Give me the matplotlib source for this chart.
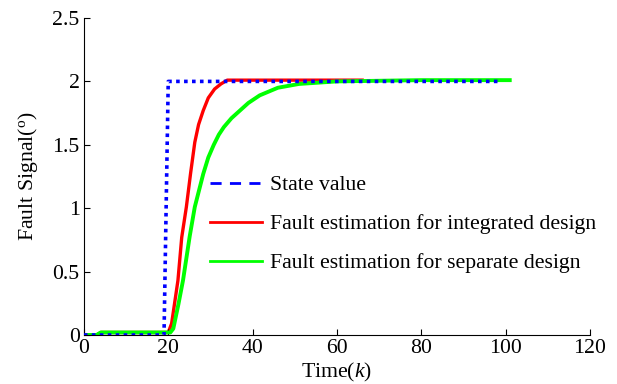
import matplotlib
matplotlib.use("Agg")
import matplotlib.pyplot as plt
from matplotlib.lines import Line2D

plt.rcParams['font.family'] = ['Liberation Serif', 'DejaVu Serif']
plt.rcParams['mathtext.fontset'] = 'custom'
plt.rcParams['mathtext.rm'] = 'Liberation Serif'
plt.rcParams['mathtext.it'] = 'Liberation Serif:italic'

# State value
state_k = [0, 19, 20, 99]
state_v = [0, 0, 2, 2]

# Fault estimation for integrated design
integ_k = [0, 3, 4, 20, 20.8, 22.3, 23.2, 24.3, 25.3, 26.3, 27.2, 28.3, 29.5, 31, 32.5, 34, 66]
integ_v = [0, 0, 0.02, 0.02, 0.09, 0.43, 0.77, 1.01, 1.275, 1.52, 1.66, 1.77, 1.87, 1.94, 1.98, 2.01, 2.01]

# Fault estimation for separate design
sep_k = [0, 3, 4, 20.5, 21.2, 22.4, 23.5, 25.1, 26.3, 28.3, 29.5, 30.8, 32, 33.2, 35, 37.0, 39, 41.7, 46, 51, 60, 80, 101]
sep_v = [0, 0, 0.02, 0.02, 0.05, 0.24, 0.43, 0.78, 1.01, 1.27, 1.40, 1.50, 1.58, 1.64, 1.71, 1.77, 1.83, 1.89, 1.95, 1.98, 2.0, 2.01, 2.01]

labels = ['State value', 'Fault estimation for integrated design',
          'Fault estimation for separate design']
xticks = [0, 20, 40, 60, 80, 100, 120]
yticks = [0, 0.5, 1, 1.5, 2, 2.5]
yticklabels = ['0', '0.5', '1', '1.5', '2', '2.5']

fs = 15.7

fig = plt.figure(figsize=(6.17, 3.84), dpi=100)
ax = fig.add_axes([0.136, 0.1276, 0.820, 0.8255])

ax.plot(state_k, state_v, color='#0000ff', linestyle=(0, (1, 1.2)), linewidth=2.6, zorder=3)
ax.plot(sep_k, sep_v, color='#00ff00', linewidth=2.8, zorder=2)
ax.plot(integ_k, integ_v, color='#ff0000', linewidth=2.4, zorder=1)

ax.set_xlim(0, 120)
ax.set_ylim(0, 2.5)
ax.set_xticks(xticks)
ax.set_yticks(yticks)
ax.set_yticklabels(yticklabels)
ax.spines['top'].set_visible(False)
ax.spines['right'].set_visible(False)
ax.tick_params(direction='in', length=4, labelsize=fs, width=0.8, pad=3)
ax.set_xlabel('Time($k$)', fontsize=fs, labelpad=2)
ax.set_ylabel(r'Fault Signal($^{\mathrm{o}}$)', fontsize=fs, labelpad=9)

handles = [Line2D([], [], color='#0000ff', linestyle=(0, (4, 3)), linewidth=2),
           Line2D([], [], color='#ff0000', linewidth=2),
           Line2D([], [], color='#00ff00', linewidth=2)]
ax.legend(handles, labels, loc='upper left', bbox_to_anchor=(0.249, 0.505),
          frameon=False, fontsize=fs, handlelength=2.4, handletextpad=0.36,
          labelspacing=0.86, borderaxespad=0, borderpad=0)

fig.savefig('out.png', dpi=100)
